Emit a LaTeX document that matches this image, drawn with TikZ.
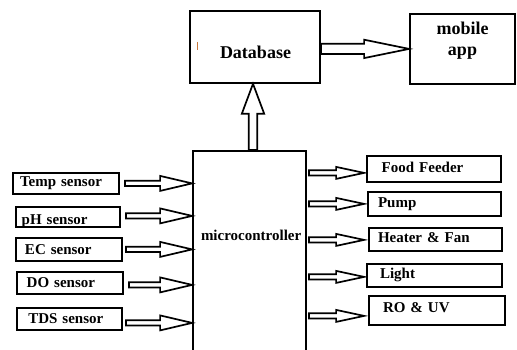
\documentclass[tikz,border=0pt]{standalone}
\usepackage{fontspec}
\setmainfont{Liberation Serif}
\usetikzlibrary{calc}
\definecolor{tickcol}{RGB}{200,120,60}
\tikzset{
  bx/.style={draw, line width=1.8pt, inner sep=0pt, anchor=north, align=left,
    font=\bfseries\fontsize{15}{17}\selectfont},
  bigbx/.style={bx, font=\bfseries\fontsize{18}{21}\selectfont},
  blockarrow/.style n args={3}{draw, line width=1.7pt, line join=miter,
    to path={let \p1=(\tikztostart), \p2=(\tikztotarget),
      \n1={atan2(\y2-\y1,\x2-\x1)}, \n2={veclen(\x2-\x1,\y2-\y1)} in
      ($(\p1)+(\n1+90:#1pt)$)
      -- ($(\p1)+(\n1:{(\n2-#3)*1pt})+(\n1+90:#1pt)$)
      -- ($(\p1)+(\n1:{(\n2-#3)*1pt})+(\n1+90:#2pt)$)
      -- (\p2)
      -- ($(\p1)+(\n1:{(\n2-#3)*1pt})+(\n1-90:#2pt)$)
      -- ($(\p1)+(\n1:{(\n2-#3)*1pt})+(\n1-90:#1pt)$)
      -- ($(\p1)+(\n1-90:#1pt)$) -- cycle}},
  inarrow/.style={blockarrow={2.6}{7.5}{32}},
  outarrow/.style={blockarrow={2.6}{6}{28}},
}
\begin{document}
\begin{tikzpicture}[x=1pt,y=-1pt]
\fill[white] (0,0) rectangle (517,350);
\useasboundingbox (0,0) rectangle (517,350);
\clip (0,0) rectangle (517,350);

% top
\node[bigbx, text width=130pt, text height=48pt, text depth=24pt] (db) at (255,10) {\hspace*{30pt}Database};
\node[bigbx, align=center, text width=105pt, text height=20.3pt, text depth=49.7pt] (mobile) at (462.5,13)
  {\baselineskip=21pt mobile\\app};
\draw[tickcol, line width=0.8pt] (197,42) -- (197,50);

% microcontroller
\node[bx, text width=113pt, text height=90pt, text depth=120pt] (mc) at (249.5,150) {\hspace*{8pt}microcontroller};

% sensors
\node[bx, text width=106pt, text height=14pt, text depth=7pt] (temp) at (66,172) {\hspace*{7pt}Temp sensor};
\node[bx, text width=104pt, text height=18pt, text depth=2pt] (ph) at (68,206) {\hspace*{5.7pt}pH sensor};
\node[bx, text width=106pt, text height=17pt, text depth=6pt] (ec) at (69,237) {\hspace*{9pt}EC sensor};
\node[bx, text width=106pt, text height=16pt, text depth=6pt] (do) at (70,271) {\hspace*{9.7pt}DO sensor};
\node[bx, text width=105pt, text height=16pt, text depth=6pt] (tds) at (69.5,307) {\hspace*{11.3pt}TDS sensor};

% actuators
\node[bx, text width=134pt, text height=17pt, text depth=9pt] (food) at (434,155) {\hspace*{14.7pt}Food Feeder};
\node[bx, text width=133pt, text height=16pt, text depth=8pt] (pump) at (434.5,191) {\hspace*{10pt}Pump};
\node[bx, text width=133pt, text height=15pt, text depth=8pt] (heat) at (435.5,227) {\hspace*{9pt}Heater \& Fan};
\node[bx, text width=135pt, text height=15pt, text depth=8pt] (light) at (434.5,263) {\hspace*{13pt}Light};
\node[bx, text width=136pt, text height=17pt, text depth=12pt] (rouv) at (437,295) {\hspace*{14pt}RO \& UV};

% arrow anchors
\coordinate (s1) at ([xshift=5pt]temp.east);
\coordinate (s2) at ([xshift=5pt,yshift=1pt]ph.east);
\coordinate (s3) at ([xshift=3pt]ec.east);
\coordinate (s4) at ([xshift=5pt,yshift=-2pt]do.east);
\coordinate (s5) at ([xshift=3pt,yshift=-4pt]tds.east);
\coordinate (e1) at ([xshift=-2pt,yshift=-4pt]food.west);
\coordinate (e2) at ([xshift=-3pt]pump.west);
\coordinate (e3) at ([xshift=-4pt,yshift=-0.5pt]heat.west);
\coordinate (e4) at ([xshift=-2pt,yshift=-1.5pt]light.west);
\coordinate (e5) at ([xshift=-4pt,yshift=-5.5pt]rouv.west);
\coordinate (up0) at ([xshift=3.5pt]mc.north);
\coordinate (up1) at ([xshift=-2pt]db.south);

% arrows
\draw[blockarrow={4.2}{11.2}{30}] (up0) to (up1);
\draw[blockarrow={5.2}{9.2}{45}] (db.east |- mobile.west) to (mobile.west);
\foreach \s in {s1,s2,s3,s4,s5}{
  \draw[inarrow] (\s) to (\s -| mc.west);
}
\foreach \e in {e1,e2,e3,e4,e5}{
  \draw[outarrow] ([xshift=2pt]\e -| mc.east) to (\e);
}
\end{tikzpicture}
\end{document}
